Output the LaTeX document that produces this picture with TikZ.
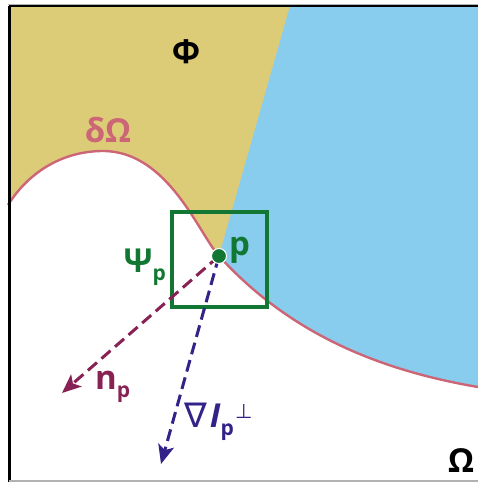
\documentclass[tikz,border=0pt]{standalone}
\usepackage{fontspec}
\setmainfont{Open Sans}
\newfontfamily\symf{DejaVu Sans}
\usetikzlibrary{arrows.meta}
\definecolor{sand}{HTML}{DDCC77}
\definecolor{sky}{HTML}{88CCEE}
\definecolor{rose}{HTML}{CC6677}
\definecolor{tolgreen}{HTML}{117733}
\definecolor{wine}{HTML}{882255}
\definecolor{indigo}{HTML}{332288}
\def\upper{(8,6) -- (478,6) -- (478,387) .. controls (378,370) and (289,333) .. (219,256) .. controls (199,234) and (168,151) .. (103,151) .. controls (65,151) and (30,170) .. (8,205) -- cycle}
\begin{document}
\begin{tikzpicture}[x=1pt,y=-1pt,
  lbl/.style={font=\bfseries\fontsize{33}{36}\selectfont, inner sep=0pt},
  vec/.style={line width=3pt, dash pattern=on 12pt off 6pt, -{Stealth[length=19pt,width=16pt,inset=4.5pt]}}]
\useasboundingbox (0,0) rectangle (478,482);
% regions above the boundary
\fill[sand] \upper;
\begin{scope}
\clip (290,6) -- (478,6) -- (478,482) -- (183.5,381) -- cycle;
\fill[sky] \upper;
\end{scope}
% boundary curve
\draw[rose, line width=2.4pt] (8,205) .. controls (30,170) and (65,151) .. (103,151) .. controls (168,151) and (199,234) .. (219,256) .. controls (289,333) and (378,370) .. (478,387);
% frame
\draw[gray!60, line width=1pt] (8,4) -- (478,4);
\draw[black, line width=2.4pt] (9,6) -- (478,6);
\draw[black, line width=3pt] (9,6) -- (9,482);
\draw[gray!60, line width=1.4pt] (9,481) -- (478,481);
% neighbourhood box
\node[draw=tolgreen, line width=3.2pt, minimum width=95pt, minimum height=95pt, inner sep=0pt] (box) at (219.5,259.5) {};
% point p
\coordinate (p) at (219,256);
\coordinate (ntip) at (62,393);
\coordinate (gtip) at (161,464);
\draw[vec, wine] (p) -- (ntip);
\draw[vec, indigo] (p) -- (gtip);
\fill[tolgreen, draw=white, line width=1pt] (p) circle (7.5pt);
% labels
\node[lbl] (phi) at (186,52) {Φ};
\node[lbl, text=rose] (dom) at (108,130) {δΩ};
\node[lbl] (om) at (461,461) {Ω};
\node[lbl, text=tolgreen, anchor=base west] (plab) at (229,255) {p};
\node[lbl, text=tolgreen, anchor=base east] (psi) at (166,272) {Ψ\raisebox{-8pt}{\fontsize{21}{22}\selectfont p}};
\node[lbl, text=wine, anchor=base west] (nlab) at (95,389) {n\raisebox{-8pt}{\fontsize{21}{22}\selectfont p}};
\node[lbl, text=indigo, anchor=base west] (glab) at (184,427) {{\mdseries\symf\fontsize{34}{36}\selectfont ∇}\kern3pt\textit{I}\raisebox{-8pt}{\fontsize{21}{22}\selectfont p}\kern1pt\raisebox{9pt}{\mdseries\symf\fontsize{20}{20}\selectfont ⊥}};
\end{tikzpicture}
\end{document}
